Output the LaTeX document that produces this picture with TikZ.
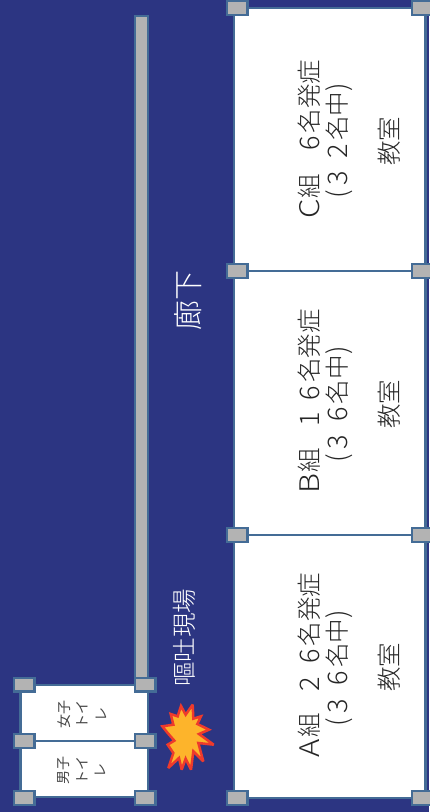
\documentclass[tikz,border=0pt]{standalone}
\usepackage{graphicx}
\usepackage{fontspec}
\setmainfont{Noto Sans CJK JP}[UprightFont=* Light]
\newfontfamily\smallfam{Noto Sans CJK JP}
\definecolor{bgc}{HTML}{2C3582}
\definecolor{edgec}{HTML}{446C96}
\definecolor{grayc}{HTML}{B3B3B3}
\definecolor{txtc}{HTML}{262626}
\definecolor{starin}{HTML}{FDB42B}
\definecolor{starout}{HTML}{EE3A2C}
\tikzset{
 handle/.style={draw=edgec,line width=2.4pt,fill=grayc,minimum width=20.6pt,minimum height=13.6pt,inner sep=0pt},
 label/.style={rotate=90,anchor=base,text=txtc,inner sep=0pt,font=\fontsize{24.5pt}{26pt}\selectfont},
 small/.style={rotate=90,text=txtc!85!white,align=center,inner sep=0pt,font=\smallfam\fontsize{14pt}{18.5pt}\selectfont},
 hall/.style={rotate=90,text=white,inner sep=0pt},
}
\newcommand{\mydg}[1]{\makebox[20.5pt]{\raisebox{-1.5pt}{\fontsize{27pt}{27pt}\selectfont #1}}}
\newcommand{\myltr}[1]{\makebox[22.5pt]{\raisebox{-1.5pt}{\fontsize{27pt}{27pt}\selectfont\scalebox{1.15}[1]{#1}}}}
\newcommand{\myparL}{\makebox[11.5pt]{\raisebox{-1.5pt}{\fontsize{27pt}{27pt}\selectfont (}}}
\newcommand{\myparR}{\makebox[10pt]{\raisebox{-1.5pt}{\fontsize{27pt}{27pt}\selectfont )}}}
\begin{document}
\begin{tikzpicture}[x=1pt,y=-1pt]
\useasboundingbox (0,0) rectangle (429,812);
\fill[bgc] (0,0) rectangle (429,812);
% wall
\draw[draw=edgec,line width=2.2pt,fill=grayc] (135,16) rectangle (148,680);
% rooms
\foreach \t/\b in {535/798,271/535,8/271}{
  \draw[draw=edgec,line width=2.4pt,fill=white] (234,\t) rectangle (425.5,\b);
}
\foreach \t/\b in {685/741,741/797}{
  \draw[draw=edgec,line width=2.4pt,fill=white] (20.5,\t) rectangle (148,\b);
}
% handles
\foreach \x/\y/\n in {237/8/h1,422.5/8/h2,237/271/h3,422.5/271/h4,237/535/h5,422.5/535/h6,237/798/h7,422.5/798/h8,
  24/684.5/h9,145/684.5/h10,24/741/h11,145/741/h12,24/798/h13,145/798/h14}{
  \node[handle] (\n) at (\x,\y) {};
}
% labels
\node[label] (c1) at (318,140) {\myltr{C}組\kern20pt\mydg{6}名発症};
\node[label] (c2) at (346,141) {\myparL\mydg{3}\kern7pt\mydg{2}名中\myparR};
\node[label] (c3) at (398.5,141) {教室};
\node[label] (b1) at (318,402) {\myltr{B}組\kern18pt\mydg{1}\kern6pt\mydg{6}名発症};
\node[label] (b2) at (346,404.5) {\myparL\mydg{3}\kern7pt\mydg{6}名中\myparR};
\node[label] (b3) at (398.5,404) {教室};
\node[label] (a1) at (318,666) {\myltr{A}組\kern18pt\mydg{2}\kern7.5pt\mydg{6}名発症};
\node[label] (a2) at (346,668.5) {\myparL\mydg{3}\kern8pt\mydg{6}名中\myparR};
\node[label] (a3) at (398.5,667) {教室};
\node[small] (girl) at (82,714) {女子\\トイ\\レ};
\node[small] (boy) at (82,770) {男子\\トイ\\レ};
\node[hall,font=\fontsize{30pt}{32pt}\selectfont] (hall) at (188,300) {廊下};
\node[hall,font=\fontsize{24.5pt}{26pt}\selectfont] (spot) at (184.5,637.5) {嘔吐現場};
% burst
\begin{scope}[shift={(155,698)},x=0.3333pt,y=-0.3333pt]
\draw[fill=starin,draw=starout,line width=2.5pt,line join=miter,miter limit=3]
 (22,85)--(55,80)--(47,48)--(68,55)--(78,24)--(92,50)--(113,20)--(115,62)--(138,55)--(127,78)--(162,95)--(132,108)--(176,140)--(130,135)--(145,190)--(115,160)--(108,215)--(92,182)--(80,215)--(72,180)--(40,210)--(55,165)--(38,140)--(58,128)--(38,105)--cycle;
\end{scope}
\end{tikzpicture}
\end{document}
